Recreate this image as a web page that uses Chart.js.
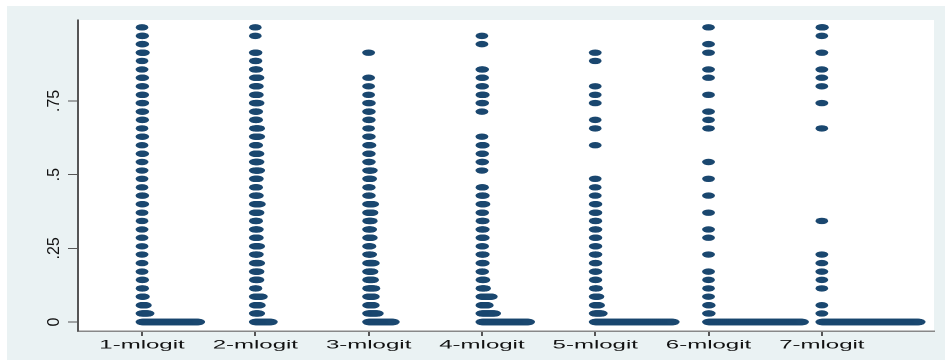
<!DOCTYPE html>
<html>
<head>
<meta charset="utf-8">
<script src="https://cdn.jsdelivr.net/npm/chart.js@4/dist/chart.umd.min.js"></script>
<style>
  html, body { margin: 0; padding: 0; background: #ffffff; }
  #wrap { width: 474px; height: 360px; transform: scaleX(2); transform-origin: 0 0; }
  canvas { display: block; }
</style>
</head>
<body>
<div id="wrap"><canvas id="c" width="474" height="360"></canvas></div>
<script>
// ---- data ----
const categories = ['1-mlogit', '2-mlogit', '3-mlogit', '4-mlogit', '5-mlogit', '6-mlogit', '7-mlogit'];
const categoryPositions = [1, 2, 3, 4, 5, 6, 7];
const yTickValues = [0, 0.25, 0.5, 0.75];
const yTickLabels = ['0', '.25', '.5', '.75'];
// bin midpoints of the dot plot (36 bins from 0 to 1)
const binValues = [0, 0.029, 0.057, 0.086, 0.114, 0.143, 0.171, 0.2, 0.229, 0.257, 0.286, 0.314,
  0.343, 0.371, 0.4, 0.429, 0.457, 0.486, 0.514, 0.543, 0.571, 0.6, 0.629, 0.657,
  0.686, 0.714, 0.743, 0.771, 0.8, 0.829, 0.857, 0.886, 0.914, 0.943, 0.971, 1];
// number of observations in each bin (bin 0 first)
const mlogit1Counts = [86,10,6,3,2,2,1,1,1,1,1,1,1,1,2,2,1,1,1,1,2,1,2,1,2,2,2,2,2,2,1,1,3,2,2,1];
const mlogit2Counts = [25,6,7,10,2,5,5,6,4,6,4,4,3,5,7,4,3,4,6,5,5,3,6,6,3,3,5,4,4,5,3,2,2,0,1,1];
const mlogit3Counts = [38,14,8,8,9,7,6,8,4,3,5,4,5,6,7,2,2,4,5,2,2,3,2,1,2,2,2,1,1,1,0,0,1,0,0,0];
const mlogit4Counts = [71,20,9,15,5,4,2,3,3,2,3,3,3,2,4,3,2,0,1,2,2,3,1,0,0,1,2,3,2,2,2,0,0,1,1,0];
const mlogit5Counts = [118,10,6,5,3,2,2,2,2,2,2,2,2,2,2,1,1,1,0,0,0,1,0,1,1,0,1,1,1,0,0,1,1,0,0,0];
const mlogit6Counts = [142,2,2,1,1,1,1,0,1,0,1,1,0,1,0,1,0,1,0,1,0,0,0,1,1,1,0,1,0,1,1,0,1,1,0,1];
const mlogit7Counts = [147,1,1,0,1,1,1,1,1,0,0,0,1,0,0,0,0,0,0,0,0,0,0,1,0,0,1,0,1,1,1,0,1,0,1,2];
const allCounts = [mlogit1Counts, mlogit2Counts, mlogit3Counts, mlogit4Counts, mlogit5Counts, mlogit6Counts, mlogit7Counts];

// ---- style / layout ----
const DOT_COLOR = '#1a476f';
const DOT_STEP = 0.00588;      // horizontal offset between stacked dots (x units)
const Y_LABEL_CENTER = 27.5;   // x of the rotated y labels (canvas px)

function buildPoints(pos, counts) {
  const pts = [];
  counts.forEach((n, k) => {
    for (let i = 0; i < n; i++) pts.push({ x: pos + i * DOT_STEP, y: binValues[k] });
  });
  return pts;
}

const datasets = categoryPositions.map((pos, idx) => ({
  label: categories[idx],
  data: buildPoints(pos, allCounts[idx]),
  backgroundColor: DOT_COLOR,
  borderColor: DOT_COLOR,
  borderWidth: 0,
  pointRadius: 3.2,
  pointHoverRadius: 3.2,
  showLine: false
}));

const backgroundPlugin = {
  id: 'stataBackground',
  beforeDraw(chart) {
    const ctx = chart.ctx;
    const a = chart.chartArea;
    ctx.save();
    ctx.fillStyle = '#eaf2f3';
    ctx.fillRect(3.5, 6, 469, 354);
    ctx.fillStyle = '#ffffff';
    ctx.fillRect(a.left, a.top, a.right - a.left, a.bottom - a.top);
    ctx.restore();
  }
};

// vertical (rotated) y-axis labels placed at the y scale's tick positions
const yLabelPlugin = {
  id: 'yRotatedLabels',
  afterDraw(chart) {
    const s = chart.scales.y;
    const ctx = chart.ctx;
    ctx.save();
    ctx.font = '16px "Liberation Sans", Arial, sans-serif';
    ctx.fillStyle = '#111';
    ctx.textAlign = 'center';
    ctx.textBaseline = 'middle';
    s.ticks.forEach((t, i) => {
      const py = s.getPixelForValue(t.value);
      ctx.save();
      ctx.translate(Y_LABEL_CENTER, py);
      ctx.scale(0.5, 1);
      ctx.rotate(-Math.PI / 2);
      ctx.fillText(yTickLabels[i], 0, 0);
      ctx.restore();
    });
    ctx.restore();
  }
};

new Chart(document.getElementById('c'), {
  type: 'scatter',
  data: { datasets },
  plugins: [backgroundPlugin, yLabelPlugin],
  options: {
    responsive: false,
    devicePixelRatio: 2,
    animation: false,
    events: [],
    layout: { padding: { top: 20, right: 7, left: 0, bottom: 0 } },
    plugins: { legend: { display: false }, tooltip: { enabled: false } },
    scales: {
      x: {
        type: 'linear',
        min: 0.435,
        max: 7.99,
        afterFit(scale) { scale.height = 29; },
        afterBuildTicks(scale) { scale.ticks = categoryPositions.map(v => ({ value: v })); },
        grid: { drawOnChartArea: false, drawTicks: true, tickLength: 5, tickColor: '#555', lineWidth: 1 },
        border: { display: true, color: '#888', width: 1.5 },
        ticks: {
          autoSkip: false,
          maxRotation: 0,
          minRotation: 0,
          padding: 2,
          color: '#111',
          font: { family: 'Liberation Sans, Arial, sans-serif', size: 12 },
          callback: (value, index) => categories[index]
        }
      },
      y: {
        type: 'linear',
        min: -0.0305,
        max: 1.0249,
        afterFit(scale) { scale.width = 39; },
        afterBuildTicks(scale) { scale.ticks = yTickValues.map(v => ({ value: v })); },
        grid: { drawOnChartArea: false, drawTicks: true, tickLength: 5, tickColor: '#555', lineWidth: 1 },
        border: { display: true, color: '#555', width: 1 },
        ticks: {
          display: false,
          callback: (value, index) => yTickLabels[index]
        }
      }
    }
  }
});
</script>
</body>
</html>
